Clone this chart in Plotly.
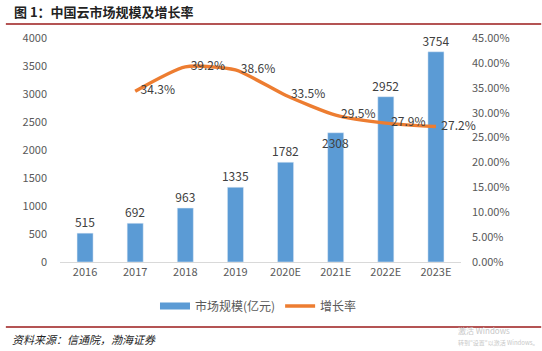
import plotly.graph_objects as go

categories = ["2016", "2017", "2018", "2019", "2020E", "2021E", "2022E", "2023E"]
market_size = [515, 692, 963, 1335, 1782, 2308, 2952, 3754]
growth_cats = ["2017", "2018", "2019", "2020E", "2021E", "2022E", "2023E"]
growth_rate = [0.343, 0.392, 0.386, 0.335, 0.295, 0.279, 0.272]
left_ticks = [0, 500, 1000, 1500, 2000, 2500, 3000, 3500, 4000]
right_ticks = [0, 0.05, 0.10, 0.15, 0.20, 0.25, 0.30, 0.35, 0.40, 0.45]

FONT = "Noto Sans CJK SC"
BLUE = "#5B9BD5"
ORANGE = "#ED7D31"
LOW_LABEL = "2021E"  # bar label drawn lower in the reference (moved off the line)

bar_text = ["" if c == LOW_LABEL else str(v) for c, v in zip(categories, market_size)]

fig = go.Figure()
fig.add_trace(go.Bar(
    x=categories, y=market_size, name="市场规模(亿元)", showlegend=False,
    marker=dict(color=BLUE), width=0.32,
    text=bar_text, textposition="outside", constraintext="none",
    textfont=dict(size=12, color="#404040", family=FONT),
    cliponaxis=False,
))
fig.add_trace(go.Scatter(
    x=[None], y=[None], name="市场规模(亿元)", mode="lines",
    line=dict(color=BLUE, width=7),
))
fig.add_trace(go.Scatter(
    x=growth_cats, y=growth_rate, name="增长率", yaxis="y2",
    mode="lines+text", line=dict(color=ORANGE, width=3.5, shape="spline", smoothing=0.6),
    text=[f"  {v*100:.1f}%" for v in growth_rate], textposition="middle right",
    textfont=dict(size=12, color="#404040", family=FONT),
    cliponaxis=False,
))

for c, v in zip(categories, market_size):
    if c == LOW_LABEL:
        fig.add_annotation(x=c, y=v, text=str(v), showarrow=False, yanchor="middle", yshift=-10,
                           font=dict(size=12, color="#404040", family=FONT))

fig.update_layout(
    width=542, height=351,
    margin=dict(l=60, r=81, t=38, b=89),
    paper_bgcolor="white", plot_bgcolor="white",
    font=dict(family=FONT, color="#595959", size=11),
    showlegend=True,
    legend=dict(orientation="h", x=0.495, xanchor="center", y=-0.196, yanchor="middle",
                font=dict(size=12, color="#595959"), itemwidth=30, tracegroupgap=0),
    xaxis=dict(type="category", showline=True, linecolor="#D9D9D9", linewidth=1,
               ticks="", showgrid=False, tickfont=dict(size=11, color="#595959"),
               range=[-0.5, 7.5]),
    yaxis=dict(range=[0, 4000], tickvals=left_ticks, showgrid=False, zeroline=False,
               showline=False, tickfont=dict(size=11, color="#595959"), ticklen=0,
               ticks="", ticklabelstandoff=12),
    yaxis2=dict(range=[0, 0.45], tickvals=right_ticks, tickformat=".2%", overlaying="y",
                side="right", showgrid=False, zeroline=False, showline=False,
                tickfont=dict(size=11, color="#595959"), ticks="", ticklabelstandoff=10),
    bargap=0.68,
)

fig.add_shape(type="line", xref="paper", yref="paper", x0=-0.135, x1=1.2, y0=(262-24)/224, y1=(262-24)/224,
              line=dict(color="#9B1B1B", width=1.5))
fig.add_shape(type="line", xref="paper", yref="paper", x0=-0.135, x1=1.2, y0=(262-327)/224, y1=(262-327)/224,
              line=dict(color="#9B1B1B", width=1.5))

fig.add_annotation(text="<b>图 1：中国云市场规模及增长率</b>", xref="paper", yref="paper",
                   x=(12-60)/400, y=(262-12)/224, xanchor="left", yanchor="middle", showarrow=False,
                   font=dict(size=13, color="#222222", family=FONT))
fig.add_annotation(text="资料来源：信通院，渤海证券", xref="paper", yref="paper",
                   x=(10-60)/400, y=(262-339)/224, xanchor="left", yanchor="middle", showarrow=False,
                   font=dict(size=11, color="#222222", family=FONT, style="italic"))
fig.add_annotation(text="激活 Windows", xref="paper", yref="paper",
                   x=(455-60)/400, y=(262-330)/224, xanchor="left", yanchor="middle", showarrow=False,
                   font=dict(size=8, color="#C8C8C8", family=FONT))
fig.add_annotation(text="转到\"设置\"以激活 Windows。", xref="paper", yref="paper",
                   x=(455-60)/400, y=(262-342)/224, xanchor="left", yanchor="middle", showarrow=False,
                   font=dict(size=6, color="#C8C8C8", family=FONT))

fig.write_html("out.html")
